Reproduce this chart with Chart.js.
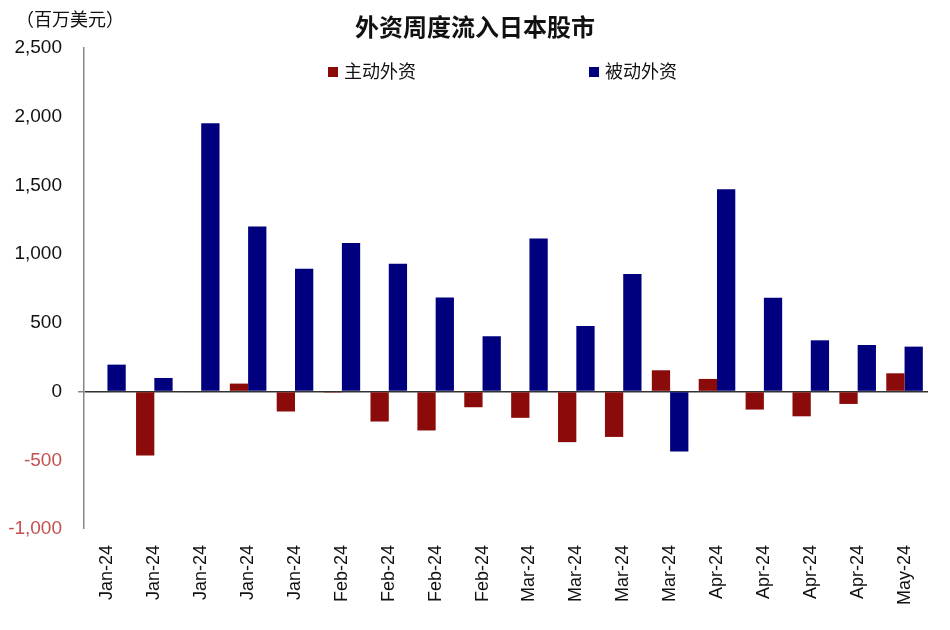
<!DOCTYPE html>
<html>
<head>
<meta charset="utf-8">
<script src="https://cdn.jsdelivr.net/npm/chart.js@4/dist/chart.umd.min.js"></script>
<style>
  body{margin:0;background:#fff;}
  #wrap{position:relative;width:950px;height:630px;}
  .txt{position:absolute;font-family:"Noto Sans CJK SC",sans-serif;color:#111;white-space:nowrap;}
  .sq{display:inline-block;width:10px;height:10px;margin-right:6px;vertical-align:1px;}
</style>
</head>
<body>
<div id="wrap">
  <canvas id="c" width="950" height="630"></canvas>
  <div class="txt" style="left:16px;top:5px;font-size:18px;">（百万美元）</div>
  <div class="txt" style="left:0;width:950px;text-align:center;top:8px;font-size:24px;font-weight:bold;">外资周度流入日本股市</div>
  <div class="txt" style="left:328px;top:57px;font-size:18px;"><span class="sq" style="background:#8B0A0A"></span>主动外资</div>
  <div class="txt" style="left:589px;top:57px;font-size:18px;"><span class="sq" style="background:#00007F"></span>被动外资</div>
</div>
<script>
// weekly labels
const weeks = ["Jan-24","Jan-24","Jan-24","Jan-24","Jan-24",
               "Feb-24","Feb-24","Feb-24","Feb-24",
               "Mar-24","Mar-24","Mar-24","Mar-24",
               "Apr-24","Apr-24","Apr-24","Apr-24",
               "May-24"];
// 主动外资 (百万美元)
const activeFlow = [-5,-465,-5,58,-145,-8,-218,-283,-114,-191,-368,-330,155,92,-131,-180,-90,133];
// 被动外资 (百万美元)
const passiveFlow = [196,99,1953,1201,894,1081,930,685,402,1114,477,855,-436,1473,683,373,339,327];
const yTicks = [-1000,-500,0,500,1000,1500,2000,2500];

const ctx = document.getElementById("c").getContext("2d");
new Chart(ctx,{
  type:"bar",
  data:{
    labels:weeks,
    datasets:[
      {label:"主动外资",data:activeFlow,backgroundColor:"#8B0A0A",categoryPercentage:0.78,barPercentage:1.0},
      {label:"被动外资",data:passiveFlow,backgroundColor:"#00007F",categoryPercentage:0.78,barPercentage:1.0}
    ]
  },
  options:{
    responsive:false,
    animation:false,
    layout:{padding:{top:48,right:22,left:6,bottom:0}},
    plugins:{legend:{display:false},title:{display:false},tooltip:{enabled:false}},
    scales:{
      x:{
        grid:{display:false},
        border:{display:false},
        ticks:{
          maxRotation:90,minRotation:90,padding:8,autoSkip:false,
          color:"#111",font:{family:"Liberation Sans",size:18}
        },
        afterFit(s){s.height=101;}
      },
      y:{
        min:-1000,max:2500,
        afterBuildTicks(s){s.ticks=yTicks.map(v=>({value:v}));},
        border:{color:"#888",width:1.5},
        grid:{
          color:c=>c.tick&&c.tick.value===0?"#333":"rgba(0,0,0,0)",
          lineWidth:c=>c.tick&&c.tick.value===0?1.5:0,
          tickColor:"#888",tickLength:6
        },
        ticks:{
          padding:16,
          color:c=>c.tick.value<0?"#c45050":"#111",
          font:{family:"Liberation Sans",size:19},
          callback:v=>v.toLocaleString("en-US")
        },
        afterFit(s){s.width=78;}
      }
    }
  }
});
</script>
</body>
</html>
